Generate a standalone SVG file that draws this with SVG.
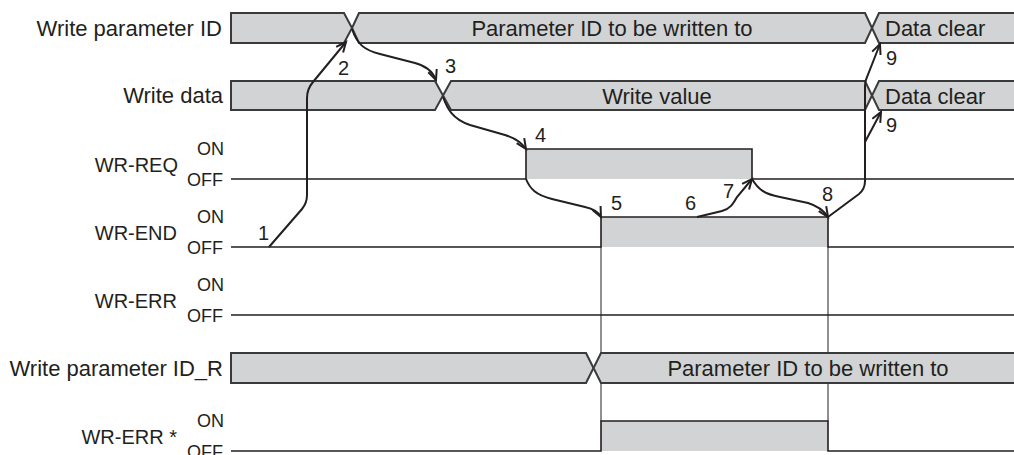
<svg xmlns="http://www.w3.org/2000/svg" width="1014" height="455" viewBox="0 0 1014 455">
<style>
text{font-family:"Liberation Sans",Arial,sans-serif;fill:#231f20}
.lbl{font-size:22px;text-anchor:end}
.wl{font-size:20px;text-anchor:end}
.st{font-size:18px;text-anchor:end}
.bt{font-size:22px}
.num{font-size:20px}
.bus{fill:#d1d3d4;stroke:#3a3a3a;stroke-width:2;stroke-linejoin:miter}
.lvl{fill:#d1d3d4;stroke:none}
.wave{fill:none;stroke:#231f20;stroke-width:1.6}
.thin{fill:none;stroke:#231f20;stroke-width:1}
.arr{fill:none;stroke:#231f20;stroke-width:2;marker-end:url(#ah)}
</style>
<defs>
<marker id="ah" markerUnits="userSpaceOnUse" markerWidth="16" markerHeight="16" refX="0" refY="0" viewBox="-12 -8 14 16" orient="auto" overflow="visible">
<path d="M-10,-4.5 L0,0 L-10,4.5" fill="none" stroke="#231f20" stroke-width="2" stroke-linejoin="miter"/>
</marker>
</defs>

<g id="write-parameter-id">
<text class="lbl" x="222" y="36">Write parameter ID</text>
<path class="bus" d="M231,13 H344 L352,28 L344,43 H231 Z"/>
<path class="bus" d="M359,13 H865 L872,28 L865,43 H359 L352,28 Z"/>
<path class="bus" d="M1020,13 H879 L872,28 L879,43 H1020"/>
<text class="bt" x="612" y="36" text-anchor="middle">Parameter ID to be written to</text>
<text class="bt" x="885" y="36">Data clear</text>
</g>

<g id="write-data">
<text class="lbl" x="223" y="103">Write data</text>
<path class="bus" d="M231,81 H435 L443,95.5 L435,110 H231 Z"/>
<path class="bus" d="M451,81 H865 L872,95.5 L865,110 H451 L443,95.5 Z"/>
<path class="bus" d="M1020,81 H879 L872,95.5 L879,110 H1020"/>
<text class="bt" x="657" y="104" text-anchor="middle">Write value</text>
<text class="bt" x="885" y="104">Data clear</text>
</g>

<g id="wr-req">
<text class="wl" x="178" y="172">WR-REQ</text>
<text class="st" x="224" y="155">ON</text>
<text class="st" x="223" y="186">OFF</text>
<rect class="lvl" x="526" y="149" width="226" height="30"/>
<path class="wave" d="M231,179 H526 V149 H752 V179 H1014"/>
</g>

<g id="wr-end">
<text class="wl" x="177" y="240">WR-END</text>
<text class="st" x="224" y="223">ON</text>
<text class="st" x="223" y="254">OFF</text>
<rect class="lvl" x="601" y="217" width="227" height="30"/>
<path class="wave" d="M231,247 H601 V217 H828 V247 H1014"/>
</g>

<g id="wr-err">
<text class="wl" x="177" y="308">WR-ERR</text>
<text class="st" x="224" y="291">ON</text>
<text class="st" x="223" y="322">OFF</text>
<path class="wave" d="M231,315 H1014"/>
</g>

<g id="guides">
<path class="thin" d="M601,247 V421 M828,247 V421"/>
</g>

<g id="write-parameter-id-r">
<text class="lbl" x="223" y="376">Write parameter ID_R</text>
<path class="bus" d="M231,353 H586 L593.5,368 L586,383 H231 Z"/>
<path class="bus" d="M1020,353 H601 L593.5,368 L601,383 H1020"/>
<text class="bt" x="808" y="376" text-anchor="middle">Parameter ID to be written to</text>
</g>

<g id="wr-err-star">
<text class="wl" x="177" y="444">WR-ERR *</text>
<text class="st" x="224" y="427">ON</text>
<text class="st" x="223" y="458">OFF</text>
<rect class="lvl" x="601" y="421" width="227" height="30"/>
<path class="wave" d="M231,451 H601 V421 H828 V451 H1014"/>
</g>

<g id="connectors">
<path class="arr" d="M269,247 L302,209 Q307,203 307,195 L307,98 Q307,89 313,82 L346,42"/>
<path class="arr" d="M352,29 C357,44 364,50 380,54 L415,63 C427,66 433,72 436,80"/>
<path class="arr" d="M443,97 C447,108 452,119 470,125 L505,135 C515,138 522,143 526,149"/>
<path class="arr" d="M526,179 C530,189 536,195 552,199 L585,207 C594,209 599,213 601,217"/>
<path class="arr" d="M697,217 L722,211 C730,209 733,204 737,197 L752,179"/>
<path class="arr" d="M752,179 C758,189 764,194 780,197 L808,203 C818,206 824,211 828,217"/>
<path class="arr" d="M828,217 L859,194 Q865,189 865,181 L865,86 Q865,81 867,77 L880,44"/>
<path class="arr" d="M865,142 L881,112"/>
</g>

<g id="step-labels">
<text class="num" x="258" y="240">1</text>
<text class="num" x="338" y="75">2</text>
<text class="num" x="445" y="73">3</text>
<text class="num" x="535" y="142">4</text>
<text class="num" x="611" y="210">5</text>
<text class="num" x="685" y="210">6</text>
<text class="num" x="723" y="198">7</text>
<text class="num" x="822" y="201">8</text>
<text class="num" x="886" y="65">9</text>
<text class="num" x="886" y="132">9</text>
</g>
</svg>
